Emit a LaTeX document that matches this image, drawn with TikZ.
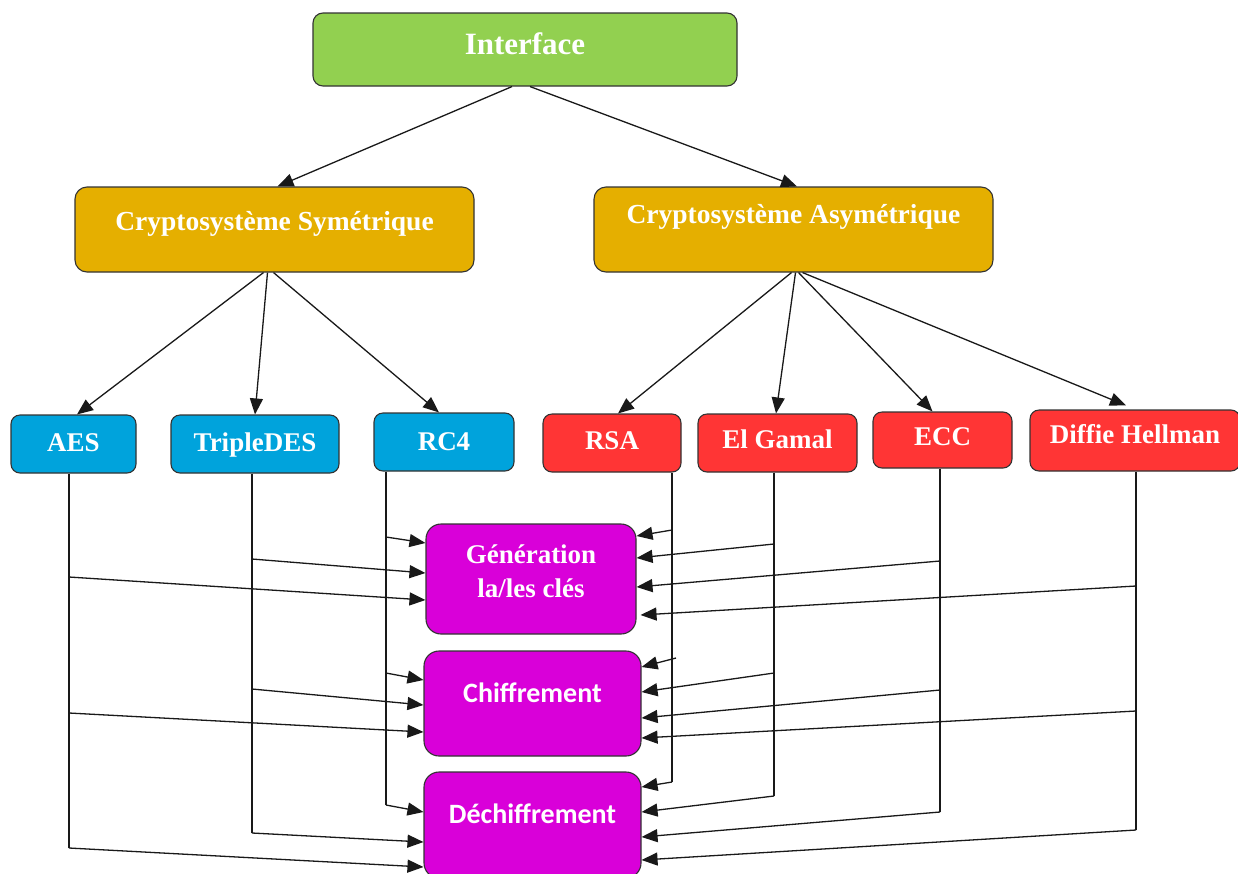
\documentclass[tikz,border=0pt]{standalone}
\usepackage{fontspec}
\setmainfont{Liberation Serif}
\newfontfamily\calfont{Carlito}
\usetikzlibrary{arrows.meta}

\definecolor{ifgreen}{HTML}{92D050}
\definecolor{sysgold}{HTML}{E5AF00}
\definecolor{symblue}{HTML}{00A3DC}
\definecolor{asymred}{HTML}{FF3535}
\definecolor{opmag}{HTML}{D900D9}

\begin{document}
\begin{tikzpicture}[x=1pt,y=-1pt,
  box/.style={draw=black!80, line width=1.1pt, text=white, inner sep=0pt, text height=30pt},
  topbox/.style={box, fill=ifgreen, rounded corners=10pt, font=\bfseries\fontsize{31}{36}\selectfont},
  sysbox/.style={box, fill=sysgold, rounded corners=12pt, minimum width=399pt, minimum height=85pt,
                 font=\bfseries\fontsize{27.5}{33}\selectfont},
  algbox/.style={box, rounded corners=9pt, font=\bfseries\fontsize{27}{32}\selectfont},
  symbox/.style={algbox, fill=symblue},
  asymbox/.style={algbox, fill=asymred},
  opbox/.style={box, fill=opmag, rounded corners=15pt},
  wire/.style={line width=1.3pt, draw=black!90},
  arr/.style={wire, -{Triangle[length=16pt 0 0,width=13pt 0 0]}}
]
\fill[white] (0,0) rectangle (1238,873);
\useasboundingbox (0,0) rectangle (1238,873);
\clip (0,0) rectangle (1238,873);

% ---------- boxes ----------
\node[topbox, minimum width=424pt, minimum height=73pt, text depth=20.4pt] (iface) at (525,49.5) {Interface};

\node[sysbox, text depth=29pt] (sym)  at (274.5,229.5) {Cryptosystème Symétrique};
\node[sysbox, text depth=43pt] (asym) at (793.5,229.5) {Cryptosystème Asymétrique};

\node[symbox, minimum width=125pt, minimum height=58pt, text depth=16pt] (aes)  at (73.5,444) {AES};
\node[symbox, minimum width=168pt, minimum height=58pt, text depth=16pt] (tdes) at (255,444) {TripleDES};
\node[symbox, minimum width=140pt, minimum height=58pt, text depth=14pt] (rc4)  at (444,442) {RC4};

\node[asymbox, minimum width=138pt, minimum height=58pt, text depth=18pt] (rsa) at (612,443) {RSA};
\node[asymbox, minimum width=159pt, minimum height=58pt, text depth=20pt] (elg) at (777.5,443) {El Gamal};
\node[asymbox, minimum width=139pt, minimum height=56pt, text depth=20pt] (ecc) at (942.5,440) {ECC};
\node[asymbox, minimum width=210pt, minimum height=61pt, text depth=25pt] (dh)  at (1135,440.5) {Diffie Hellman};

\node[opbox, minimum width=210pt, minimum height=110pt, text depth=62pt,
      font=\bfseries\fontsize{27}{34}\selectfont] (gen) at (531,579)
  {\vtop{\baselineskip=34pt\halign{\hfil#\hfil\cr Génération\cr la/les clés\cr}}};
\node[opbox, minimum width=217pt, minimum height=105pt, text depth=33pt,
      font=\calfont\bfseries\fontsize{28}{34}\selectfont] (chif) at (532.5,703.5) {Chiffrement};
\node[opbox, minimum width=217pt, minimum height=106pt, text depth=34pt,
      font=\calfont\bfseries\fontsize{28}{34}\selectfont] (dech) at (532.5,825) {Déchiffrement};

% ---------- hierarchy ----------
\draw[arr] ([xshift=-13pt]iface.south) -- ([xshift=3pt]sym.north);
\draw[arr] ([xshift=5pt]iface.south)   -- ([xshift=3.5pt]asym.north);

\draw[arr] ([xshift=-11pt]sym.south) -- ([xshift=3.5pt]aes.north);
\draw[arr] ([xshift=-7pt]sym.south)  -- (tdes.north);
\draw[arr] ([xshift=-1pt]sym.south)  -- ([xshift=-5pt]rc4.north);

\draw[arr] ([xshift=-2pt]asym.south) -- ([xshift=6pt]rsa.north);
\draw[arr] ([xshift=2pt]asym.south)  -- ([xshift=-1.5pt]elg.north);
\draw[arr] ([xshift=5pt]asym.south)  -- ([xshift=-10pt]ecc.north);
\draw[arr] ([xshift=9pt]asym.south)  -- ([xshift=-9pt,yshift=4pt]dh.north);

% ---------- tap points on the trunks ----------
\coordinate (aesA) at (69,577);   \coordinate (aesB) at (69,713);   \coordinate (aesC) at (69,848);
\coordinate (tdesA) at (252,559); \coordinate (tdesB) at (252,689); \coordinate (tdesC) at (252,833);
\coordinate (rcA) at (386,537);   \coordinate (rcB) at (386,673);   \coordinate (rcC) at (386,805);
\coordinate (rsaA) at (672,530);  \coordinate (rsaB) at (676,658);  \coordinate (rsaC) at (672,782);
\coordinate (elgA) at (774,544);  \coordinate (elgB) at (774,673);  \coordinate (elgC) at (774,796);
\coordinate (eccA) at (940,561);  \coordinate (eccB) at (940,690);  \coordinate (eccC) at (940,812);
\coordinate (dhA) at (1136,586);  \coordinate (dhB) at (1136,711);  \coordinate (dhC) at (1136,830);

% trunks
\draw[wire] (aes.south -| aesA)  -- (aesC);
\draw[wire] (tdes.south -| tdesA) -- (tdesC);
\draw[wire] (rc4.south -| rcA)   -- (rcC);
\draw[wire] (rsa.south -| rsaA)  -- (rsaC);
\draw[wire] (elg.south -| elgA)  -- (elgC);
\draw[wire] (ecc.south -| eccA)  -- (eccC);
\draw[wire] (dh.south -| dhA)    -- (dhC);

% symmetric algorithms -> operations
\draw[arr] (rcA)   -- ([yshift=36pt]gen.west);
\draw[arr] (tdesA) -- ([yshift=6pt]gen.west);
\draw[arr] (aesA)  -- ([yshift=-21pt]gen.west);
\draw[arr] (rcB)   -- ([yshift=23.5pt]chif.west);
\draw[arr] (tdesB) -- ([yshift=-1.5pt]chif.west);
\draw[arr] (aesB)  -- ([yshift=-28.5pt]chif.west);
\draw[arr] (rcC)   -- ([yshift=13pt]dech.west);
\draw[arr] (tdesC) -- ([yshift=-17pt]dech.west);
\draw[arr] (aesC)  -- ([yshift=-42pt]dech.west);

% asymmetric algorithms -> operations
\draw[arr] (rsaA) -- ([yshift=43pt]gen.east);
\draw[arr] (elgA) -- ([yshift=21pt]gen.east);
\draw[arr] (eccA) -- ([yshift=-8pt]gen.east);
\draw[arr] (dhA)  -- ([xshift=4pt,yshift=-36pt]gen.east);
\draw[arr] (rsaB) -- ([yshift=36.5pt]chif.east);
\draw[arr] (elgB) -- ([yshift=11.5pt]chif.east);
\draw[arr] (eccB) -- ([yshift=-14.5pt]chif.east);
\draw[arr] (dhB)  -- ([yshift=-34.5pt]chif.east);
\draw[arr] (rsaC) -- ([yshift=38pt]dech.east);
\draw[arr] (elgC) -- ([yshift=13pt]dech.east);
\draw[arr] (eccC) -- ([yshift=-12pt]dech.east);
\draw[arr] (dhC)  -- ([yshift=-35pt]dech.east);
\end{tikzpicture}
\end{document}
